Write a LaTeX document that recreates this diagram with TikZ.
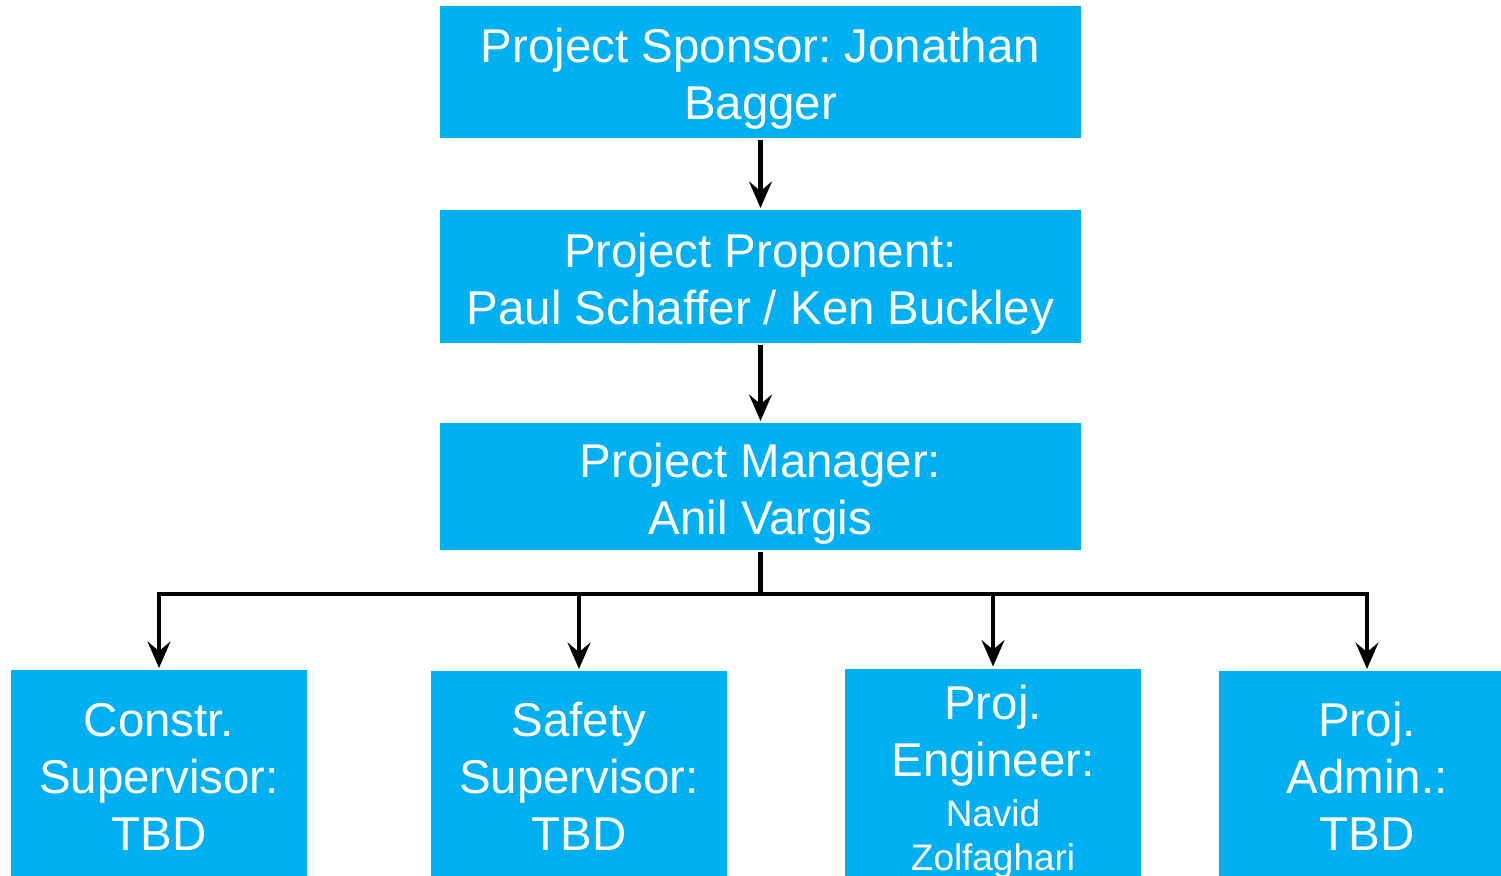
\documentclass[tikz,border=0pt]{standalone}
\usepackage{fontspec}
\setmainfont{Liberation Sans}
\usepackage{tikz}
\usetikzlibrary{arrows.meta}
\definecolor{boxblue}{HTML}{00B0F0}
\newcommand{\boxstrut}[1][1.02em]{\rule{0pt}{#1}}
\newcommand{\smalltxt}{\fontsize{10.5}{12.8}\selectfont}
\frenchspacing

\begin{document}
\begin{tikzpicture}[-{Stealth[length=7.5pt,width=6.5pt,inset=2.7pt]},line width=1.15pt,
  main node/.style={rectangle,fill=boxblue,text=white,inner sep=0pt,align=center,
    minimum width=6.41cm,font=\fontsize{13.5}{16.2}\selectfont},
  low node/.style={main node,minimum width=2.96cm,minimum height=2.05cm}]
\useasboundingbox (0,0) rectangle (15.01,-8.76);
%1
  \node[main node,minimum height=1.32cm] (1) at (7.605,-0.72) {\boxstrut Project Sponsor: Jonathan\\Bagger};
%2
  \node[main node,minimum height=1.33cm] (2) at (7.605,-2.765) {\boxstrut Project Proponent:\\Paul Schaffer / Ken Buckley};
%3
  \node[main node,minimum height=1.27cm] (3) at (7.605,-4.865) {\boxstrut Project Manager:\\Anil Vargis};
%4
  \node[low node,minimum height=2.06cm] (4) at (1.59,-7.73) {\boxstrut[0.86em]Constr.\\Supervisor:\\TBD};
%5
  \node[low node] (5) at (5.79,-7.735) {\boxstrut[0.86em]Safety\\Supervisor:\\TBD};
%6
  \node[low node] (6) at (9.93,-7.735) {\boxstrut[1.07em]Proj.\\Engineer:\\[-2pt]{\smalltxt Navid}\\[-3.5pt]{\smalltxt Zolfaghari}};
%7
  \node[low node] (7) at (13.67,-7.735) {\boxstrut[0.86em]Proj.\\Admin.:\\TBD};
%paths
  \draw (1) -- (2);
  \draw (2) -- (3);
  \foreach \n in {4,5,6,7}
    \draw (3.south) -- ++(0,-0.42) -| (\n.north);
\end{tikzpicture}
\end{document}
